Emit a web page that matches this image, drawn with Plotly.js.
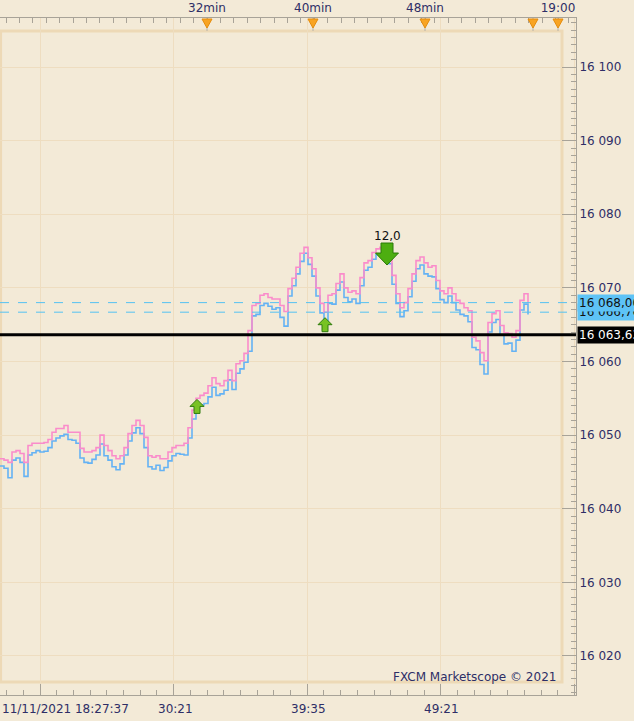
<!DOCTYPE html>
<html>
<head>
<meta charset="utf-8">
<script src="https://cdn.plot.ly/plotly-3.0.1.min.js"></script>
<style>
	html, body { margin: 0; padding: 0; background: #F3EAD7; }
	#chart { width: 634px; height: 721px; }
</style>
</head>
<body>
<div id="chart"></div>
<script>

// tick samples (ask = pink, bid = blue)
var askPrice = [
	16046.8, 16046.6, 16046.3, 16047.7, 16047.9, 16047.5, 16046.3, 16048.6, 16048.9, 16048.9,
	16048.9, 16049.0, 16049.4, 16050.4, 16050.9, 16050.9, 16051.3, 16050.4, 16050.4, 16050.4,
	16048.2, 16047.7, 16047.7, 16047.9, 16048.3, 16050.0, 16048.6, 16047.9, 16047.2, 16046.8,
	16047.2, 16048.3, 16050.2, 16051.3, 16052.0, 16051.3, 16049.7, 16047.2, 16047.0, 16047.2,
	16046.8, 16046.8, 16047.7, 16048.3, 16048.6, 16048.6, 16048.9, 16051.0, 16053.4, 16055.0,
	16055.4, 16055.7, 16056.7, 16057.8, 16057.0, 16056.7, 16057.4, 16058.8, 16057.4, 16059.7,
	16060.1, 16061.1, 16064.2, 16067.6, 16067.9, 16069.0, 16069.2, 16068.7, 16068.5, 16068.5,
	16067.6, 16066.8, 16069.9, 16071.3, 16072.8, 16074.7, 16075.5, 16074.1, 16072.6, 16070.0,
	16067.9, 16066.7, 16069.0, 16069.2, 16070.6, 16071.9, 16070.0, 16069.4, 16069.6, 16069.2,
	16071.4, 16073.4, 16073.7, 16074.8, 16075.3, 16075.5, 16075.1, 16074.4, 16071.7, 16069.2,
	16067.3, 16068.0, 16069.9, 16071.9, 16073.7, 16074.2, 16073.4, 16072.8, 16073.0, 16071.0,
	16069.6, 16069.2, 16070.0, 16069.2, 16068.3, 16067.9, 16067.3, 16066.9, 16063.3, 16062.8,
	16061.2, 16060.1, 16065.3, 16066.5, 16066.9, 16064.9, 16063.9, 16063.8, 16063.3, 16064.2,
	16068.3, 16069.2, 16067.9
];
var bidPrice = [
	16045.8, 16045.5, 16044.2, 16046.6, 16046.9, 16046.3, 16044.4, 16047.3, 16047.6, 16047.9,
	16047.7, 16047.8, 16048.3, 16049.2, 16049.6, 16049.9, 16050.1, 16049.4, 16049.3, 16048.9,
	16046.9, 16046.3, 16046.2, 16046.7, 16047.3, 16048.8, 16047.2, 16046.6, 16045.7, 16045.3,
	16046.1, 16047.3, 16049.2, 16050.3, 16051.0, 16050.2, 16048.3, 16045.7, 16045.4, 16045.9,
	16045.2, 16045.6, 16046.5, 16047.2, 16047.5, 16047.4, 16047.3, 16049.6, 16052.2, 16053.9,
	16054.1, 16054.3, 16055.2, 16056.5, 16055.4, 16055.6, 16056.1, 16057.5, 16056.2, 16058.4,
	16059.0, 16059.9, 16061.4, 16066.2, 16066.4, 16067.6, 16067.9, 16067.5, 16067.1, 16067.3,
	16066.0, 16064.8, 16068.9, 16070.3, 16071.9, 16073.6, 16074.7, 16073.2, 16071.6, 16068.9,
	16066.6, 16065.2, 16067.9, 16067.8, 16069.7, 16070.8, 16068.7, 16068.1, 16068.5, 16067.9,
	16070.3, 16072.4, 16072.8, 16073.9, 16074.5, 16074.6, 16074.2, 16073.3, 16070.5, 16067.9,
	16066.1, 16066.9, 16068.8, 16070.9, 16072.6, 16073.1, 16071.9, 16071.6, 16071.5, 16069.9,
	16068.4, 16068.0, 16068.9, 16068.0, 16067.0, 16066.4, 16066.2, 16065.4, 16061.9, 16061.6,
	16059.6, 16058.3, 16064.0, 16065.3, 16065.7, 16063.6, 16062.4, 16062.5, 16061.4, 16062.9,
	16067.0, 16067.8, 16066.4
];

// bottom time axis (positions are tick-sample numbers)
var timeTickIdx = [10, 43.75, 77, 110.25];
var timeLabels = ["11/11/2021 18:27:37", "30:21", "39:35", "49:21"];

// top minute axis
var minuteTickIdx = [51.75, 78.25, 106.25, 139.5];
var minuteLabels = ["32min", "40min", "48min", "19:00"];
var minuteMarkIdx = [51.75, 78.25, 106.25, 133.25, 139.5];

// horizontal levels
var levelPrice = [16066.70, 16068.00, 16063.63];
var levelKind = ["dash", "dash", "solid"];

// trade markers
var tradeIdx = [49.25, 81.25, 96.75];
var tradePrice = [16053.9, 16065.0, 16074.6];
var tradeSide = ["buy", "buy", "sell"];
var tradeText = ["", "", "12,0"];

var BG = "#F3EAD7";
var GRID = "#EEDDC0";
var AXIS = "#A8A398";
var INK = "#2E2E66";

function fmt(v){
	var s = v.toFixed(2).replace(".", ",");
	var p = s.split(",");
	return p[0].replace(/\B(?=(\d{3})+(?!\d))/g, " ") + "," + p[1];
}

var idx = askPrice.map(function(_, i){ return i; });

var data = [
	{x: idx, y: bidPrice, type: "scatter", mode: "lines", line: {color: "#64B2F4", width: 1.6, shape: "hv"}, hoverinfo: "skip"},
	{x: idx, y: askPrice, type: "scatter", mode: "lines", line: {color: "#FA8CCB", width: 1.6, shape: "hv"}, hoverinfo: "skip"},
	{x: [minuteTickIdx[0]], y: [askPrice[0]], xaxis: "x2", type: "scatter", mode: "markers", marker: {opacity: 0}, hoverinfo: "skip"}
];

var shapes = [];
var annotations = [];

// chart frame
shapes.push({type: "rect", xref: "paper", yref: "paper", x0: 0.001, x1: 562/576, y0: 13/677, y1: 1 - 13/677,
	line: {color: "#EDD9B6", width: 3}, layer: "below"});

// levels
for(var i = 0; i < levelPrice.length; i++){
	var solid = levelKind[i] == "solid";
	shapes.push({type: "line", xref: "paper", yref: "y", x0: 0, x1: 1, y0: levelPrice[i], y1: levelPrice[i],
		line: {color: solid ? "#000" : "#55C2F2", width: solid ? 3 : 1, dash: solid ? "solid" : "dash"}});
	annotations.push({xref: "paper", yref: "y", x: 1, y: levelPrice[i], xanchor: "left", yanchor: "middle",
		text: fmt(levelPrice[i]), showarrow: false, bgcolor: solid ? "#000" : "#5EC3F6",
		font: {size: 12, color: solid ? "#fff" : "#111"}, borderpad: 1, xshift: 1});
}

// minute marks on top axis
for(var i = 0; i < minuteMarkIdx.length; i++){
	shapes.push({type: "line", xref: "x", yref: "paper", x0: minuteMarkIdx[i], x1: minuteMarkIdx[i], y0: 1, y1: 1 - 13/677,
		line: {color: "#B8B2A6", width: 1}});
	shapes.push({type: "path", xref: "x", yref: "paper", xsizemode: "pixel", ysizemode: "pixel",
		xanchor: minuteMarkIdx[i], yanchor: 1, path: "M-5,-1 L5,-1 L0,-10 Z",
		fillcolor: "#F8A423", line: {color: "#E58C0C", width: 1}});
}

// trade arrows
for(var i = 0; i < tradeIdx.length; i++){
	var p, fill, edge;
	if(tradeSide[i] == "buy"){
		p = "M0,7 L7,0 L3,0 L3,-7 L-3,-7 L-3,0 L-7,0 Z";
		fill = "#78C224"; edge = "#2F7C0C";
	}else{
		p = "M0,-11 L11.5,1 L6,1 L6,11 L-6,11 L-6,1 L-11.5,1 Z";
		fill = "#4DAE10"; edge = "#2A7A08";
	}
	shapes.push({type: "path", xref: "x", yref: "y", xsizemode: "pixel", ysizemode: "pixel",
		xanchor: tradeIdx[i], yanchor: tradePrice[i], path: p, fillcolor: fill, line: {color: edge, width: 1}});
	if(tradeText[i]){
		annotations.push({x: tradeIdx[i], y: tradePrice[i], text: tradeText[i], showarrow: false,
			yshift: 18, font: {size: 12, color: "#111"}});
	}
}

// bottom time labels
for(var i = 0; i < timeTickIdx.length; i++){
	annotations.push({xref: "x", yref: "paper", x: i == 0 ? 0 : timeTickIdx[i], y: 0,
		xanchor: i == 0 ? "left" : "center", yanchor: "top", yshift: -5,
		text: timeLabels[i], showarrow: false, font: {size: 12, color: INK}});
}

annotations.push({xref: "paper", yref: "paper", x: 558/576, y: 18/677, xanchor: "right", yanchor: "middle",
	text: "FXCM Marketscope © 2021", showarrow: false, font: {size: 12, color: INK}});

var layout = {
	width: 634,
	height: 721,
	margin: {l: 0, r: 58, t: 18, b: 26, pad: 0},
	paper_bgcolor: BG,
	plot_bgcolor: BG,
	showlegend: false,
	separators: ", ",
	font: {family: "DejaVu Sans, Verdana, sans-serif", size: 12, color: INK},
	xaxis: {
		range: [0, 144], tickmode: "linear", tick0: timeTickIdx[0], dtick: 33.4,
		showticklabels: false, ticks: "inside", ticklen: 11, tickcolor: AXIS,
		showgrid: true, gridcolor: GRID, gridwidth: 1, zeroline: false,
		showline: true, linecolor: AXIS, linewidth: 1,
		minor: {dtick: 33.4/8, tick0: timeTickIdx[0], ticks: "inside", ticklen: 5, tickcolor: AXIS, showgrid: false}
	},
	xaxis2: {
		overlaying: "x", side: "top", anchor: "y", range: [0, 144],
		tickmode: "array", tickvals: minuteTickIdx, ticktext: minuteLabels,
		ticks: "inside", ticklen: 6, tickcolor: AXIS, showgrid: false, zeroline: false,
		showline: true, linecolor: AXIS, linewidth: 1, tickfont: {size: 12, color: INK},
		minor: {tickmode: "linear", tick0: minuteTickIdx[0], dtick: 3.35, ticks: "inside", ticklen: 5, tickcolor: AXIS, showgrid: false}
	},
	yaxis: {
		side: "right", range: [16014.70, 16106.66], tickmode: "linear", tick0: 16020, dtick: 10,
		tickformat: ",d", ticks: "inside", ticklen: 14, tickcolor: AXIS,
		showgrid: true, gridcolor: GRID, zeroline: false,
		showline: true, linecolor: AXIS, linewidth: 1, tickfont: {size: 12, color: INK},
		minor: {dtick: 1, ticks: "inside", ticklen: 5, tickcolor: AXIS, showgrid: false}
	},
	shapes: shapes,
	annotations: annotations
};

Plotly.newPlot("chart", data, layout, {staticPlot: true, displayModeBar: false});
</script>
</body>
</html>
